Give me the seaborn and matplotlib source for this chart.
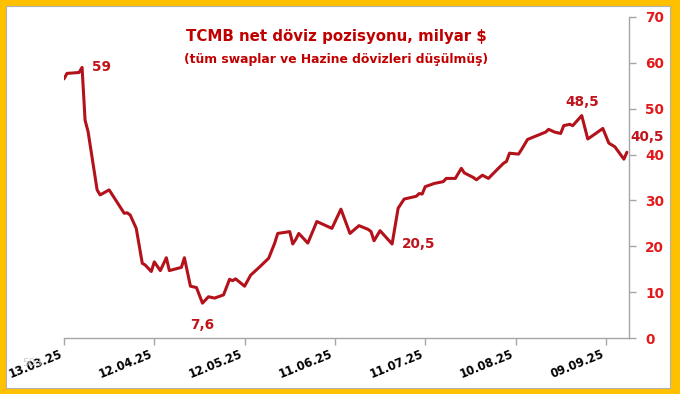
import matplotlib
matplotlib.use("Agg")
import matplotlib.pyplot as plt
import matplotlib.dates as mdates
from matplotlib.patches import Rectangle
import seaborn as sns
import pandas as pd

dates = [
    "2025-03-13", "2025-03-14", "2025-03-18", "2025-03-19", "2025-03-20", "2025-03-21",
    "2025-03-24", "2025-03-25", "2025-03-28", "2025-04-02", "2025-04-03", "2025-04-04",
    "2025-04-06", "2025-04-08", "2025-04-09", "2025-04-11", "2025-04-12", "2025-04-14",
    "2025-04-16", "2025-04-17", "2025-04-21", "2025-04-22", "2025-04-24", "2025-04-26",
    "2025-04-28", "2025-04-30", "2025-05-02", "2025-05-05", "2025-05-07", "2025-05-08",
    "2025-05-09", "2025-05-12", "2025-05-14", "2025-05-17", "2025-05-20", "2025-05-22",
    "2025-05-23", "2025-05-27", "2025-05-28", "2025-05-29", "2025-05-30", "2025-06-02",
    "2025-06-05", "2025-06-10", "2025-06-13", "2025-06-16", "2025-06-19", "2025-06-22",
    "2025-06-23", "2025-06-24", "2025-06-26", "2025-06-30", "2025-07-02", "2025-07-04",
    "2025-07-08", "2025-07-09", "2025-07-10", "2025-07-11", "2025-07-14", "2025-07-17",
    "2025-07-18", "2025-07-21", "2025-07-23", "2025-07-24", "2025-07-27", "2025-07-28",
    "2025-07-30", "2025-08-01", "2025-08-04", "2025-08-06", "2025-08-07", "2025-08-08",
    "2025-08-11", "2025-08-12", "2025-08-14", "2025-08-17", "2025-08-20", "2025-08-21",
    "2025-08-23", "2025-08-25", "2025-08-26", "2025-08-28", "2025-08-29", "2025-09-01",
    "2025-09-03", "2025-09-05", "2025-09-08", "2025-09-10", "2025-09-12", "2025-09-15",
    "2025-09-16",
]
values = [
    56.5, 57.7, 57.9, 59.0, 47.5, 45.0,
    32.3, 31.2, 32.3, 27.2, 27.3, 26.8,
    23.9, 16.3, 15.9, 14.5, 16.6, 14.7,
    17.5, 14.7, 15.4, 17.5, 11.3, 11.0,
    7.6, 9.0, 8.7, 9.4, 12.8, 12.5,
    12.9, 11.3, 13.7, 15.5, 17.4, 20.7,
    22.8, 23.2, 20.5, 21.5, 22.8, 20.7,
    25.4, 23.9, 28.1, 22.8, 24.5, 23.7,
    23.2, 21.2, 23.4, 20.5, 28.3, 30.3,
    30.9, 31.5, 31.4, 33.0, 33.7, 34.1,
    34.8, 34.8, 37.0, 36.0, 35.0, 34.5,
    35.5, 34.8, 36.8, 38.1, 38.5, 40.3,
    40.1, 41.1, 43.3, 44.1, 44.9, 45.5,
    44.9, 44.6, 46.3, 46.6, 46.3, 48.5,
    43.4, 44.3, 45.7, 42.5, 41.7, 39.0,
    40.5,
]

tick_dates = ["2025-03-13", "2025-04-12", "2025-05-12", "2025-06-11",
              "2025-07-11", "2025-08-10", "2025-09-09"]
y_ticks = [0, 10, 20, 30, 40, 50, 60, 70]
title_1 = "TCMB net döviz pozisyonu, milyar $"
title_2 = "(tüm swaplar ve Hazine dövizleri düşülmüş)"
labels = [("2025-03-19", "59"), ("2025-04-28", "7,6"), ("2025-06-30", "20,5"),
          ("2025-09-01", "48,5"), ("2025-09-16", "40,5")]

sns.set_theme(style="white")
plt.rcParams["font.family"] = ["DejaVu Sans"]

df = pd.DataFrame({"date": pd.to_datetime(dates), "value": values})

fig = plt.figure(figsize=(6.8, 3.94), dpi=100)
fig.patch.set_facecolor("#FFC000")
fig.patches.append(Rectangle((6 / 680, 6 / 394), 664 / 680, 382 / 394,
                             transform=fig.transFigure, facecolor="white",
                             edgecolor="#B0B0B0", linewidth=0.8, zorder=-5))

ax = fig.add_axes([64 / 680, 56 / 394, 565 / 680, 321 / 394])
ax.set_zorder(2)
ax.set_facecolor("none")
sns.lineplot(data=df, x="date", y="value", ax=ax, color="#B3121B", linewidth=2.2)

ax.set_xlim(pd.Timestamp("2025-03-13"), pd.Timestamp("2025-03-13") + pd.Timedelta(days=187.7))
ax.set_ylim(0, 70)
ax.set_xlabel("")
ax.set_ylabel("")

ax.yaxis.tick_right()
ax.set_yticks(y_ticks)
ax.set_xticks(pd.to_datetime(tick_dates))
ax.xaxis.set_major_formatter(mdates.DateFormatter("%d.%m.%y"))

for s in ["left", "top"]:
    ax.spines[s].set_visible(False)
for s in ["bottom", "right"]:
    ax.spines[s].set_color("#A6A6A6")
    ax.spines[s].set_linewidth(1.0)

ax.tick_params(axis="y", which="major", right=True, left=False, length=5, width=1,
               color="#A6A6A6", pad=6.5, labelsize=9.8, labelcolor="#E31A1C")
ax.tick_params(axis="x", which="major", bottom=True, length=5, width=1,
               color="#A6A6A6", pad=2, labelsize=8.3, labelcolor="black")
for lab in ax.get_yticklabels():
    lab.set_fontweight("bold")
for lab in ax.get_xticklabels():
    lab.set_fontweight("bold")
    lab.set_rotation(22)
    lab.set_ha("right")

fig.text(336 / 680, 1 - 41 / 394, title_1, ha="center", va="baseline",
         color="#C00000", fontsize=10.8, fontweight="bold")
fig.text(336 / 680, 1 - 63 / 394, title_2, ha="center", va="baseline",
         color="#C00000", fontsize=8.9, fontweight="bold")

offsets = {"59": (10, 0, "left", "center"), "7,6": (0, -22, "center", "center"),
           "20,5": (10, 0, "left", "center"), "48,5": (1, 14, "center", "center"),
           "40,5": (3, 15, "left", "center")}
date_to_val = dict(zip(dates, values))
for d, lab in labels:
    dx, dy, ha, va = offsets[lab]
    ax.annotate(lab, xy=(pd.Timestamp(d), date_to_val[d]), xytext=(dx, dy),
                textcoords="offset pixels", ha=ha, va=va, color="#C0141C",
                fontsize=9.8, fontweight="bold", annotation_clip=False)

fig.text(22 / 680, 1 - 363 / 394, "503", ha="left", va="center",
         color="#D0D0D0", fontsize=7.5)

fig.savefig("out.png", dpi=100, facecolor=fig.get_facecolor())
